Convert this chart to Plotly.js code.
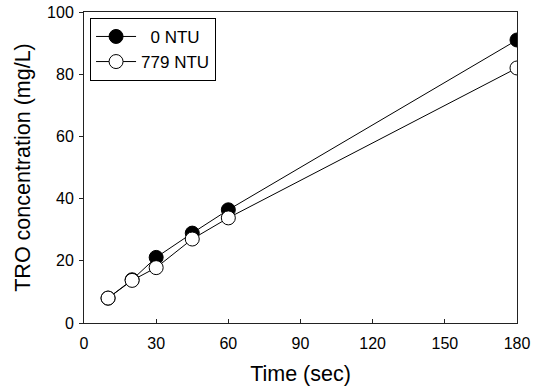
<!DOCTYPE html>
<html>
<head>
<meta charset="utf-8">
<script src="https://cdn.plot.ly/plotly-3.0.1.min.js"></script>
<style>html,body{margin:0;padding:0;background:#fff;}#chart{width:534px;height:392px;}</style>
</head>
<body>
<div id="chart"></div>
<script>
const seriesNames = ["  0 NTU", "779 NTU"];
const time0 = [10, 20, 30, 45, 60, 180];
const tro0 = [8, 13.9, 21.1, 28.9, 36.4, 91];
const time779 = [10, 20, 30, 45, 60, 180];
const tro779 = [8, 13.7, 17.8, 27, 33.8, 82];
const xTicks = [0, 30, 60, 90, 120, 150, 180];
const yTicks = [0, 20, 40, 60, 80, 100];

const font = "Liberation Sans, Arial, sans-serif";
const traces = [
  {x: time0, y: tro0, name: seriesNames[0], mode: "lines+markers", type: "scatter",
   line: {color: "#000", width: 1},
   marker: {symbol: "circle", size: 14, color: "#000", line: {color: "#000", width: 1}}},
  {x: time779, y: tro779, name: seriesNames[1], mode: "lines+markers", type: "scatter",
   line: {color: "#000", width: 1},
   marker: {symbol: "circle", size: 14, color: "#fff", line: {color: "#000", width: 1}}}
];
const layout = {
  width: 534, height: 392,
  margin: {l: 84, r: 17, t: 12, b: 69},
  paper_bgcolor: "#fff", plot_bgcolor: "#fff",
  font: {family: font, color: "#000", size: 16},
  showlegend: true,
  legend: {x: 0.014, y: 0.981, xanchor: "left", yanchor: "top",
    bordercolor: "#000", borderwidth: 1, bgcolor: "#fff",
    font: {family: font, size: 17, color: "#000"}, itemwidth: 40,
    entrywidth: 128, entrywidthmode: "pixels"},
  xaxis: {range: [0, 180], tickvals: xTicks, ticktext: xTicks.map(String),
    ticks: "inside", ticklen: 4, tickcolor: "#222", showline: true, linecolor: "#222",
    linewidth: 1, mirror: true, showgrid: false, zeroline: false, ticklabelstandoff: 6,
    title: {text: "Time (sec)", font: {family: font, size: 21.5}, standoff: 14}},
  yaxis: {range: [0, 100], tickvals: yTicks, ticktext: yTicks.map(String),
    ticks: "outside", ticklen: 4, tickcolor: "#222", showline: true, linecolor: "#222",
    linewidth: 1, mirror: true, showgrid: false, zeroline: false, ticklabelstandoff: 2,
    title: {text: "TRO concentration (mg/L)", font: {family: font, size: 21.5}, standoff: 10}}
};
Plotly.newPlot("chart", traces, layout, {displayModeBar: false, staticPlot: true});
</script>
</body>
</html>
